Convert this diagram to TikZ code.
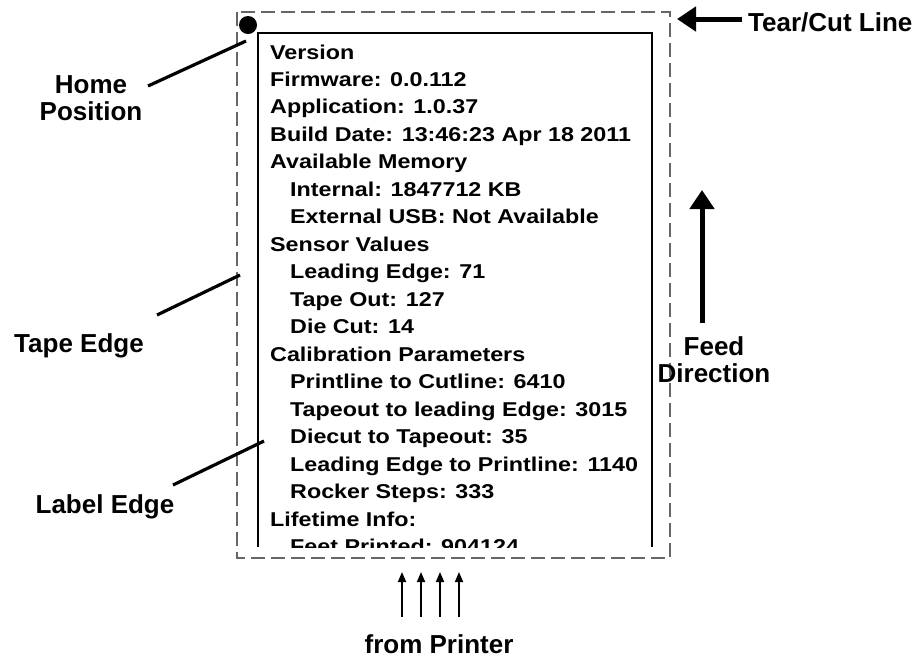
\documentclass[tikz,border=0pt]{standalone}
\usepackage{fontspec}
\setmainfont{Liberation Sans}
\newfontfamily\bodyfont[FakeStretch=1.165]{Liberation Sans Bold}
\usetikzlibrary{arrows.meta}
\tikzset{
  lbl/.style={font=\bfseries\fontsize{26}{27}\selectfont, inner sep=0pt, align=center},
  bodytext/.style={font=\bodyfont\fontsize{20}{20}\selectfont, inner sep=0pt, anchor=base west},
  leader/.style={line width=3.2pt},
  bigarrow/.style={line width=5pt, -{Triangle[width=24pt,length=19pt]}},
  smallarrow/.style={line width=1.8pt, -{Triangle[width=8pt,length=10pt]}},
  tearline/.style={draw=black!60, line width=1.1pt, dash pattern=on 14pt off 6pt},
  paper/.style={line width=2.8pt}
}
\begin{document}
\begin{tikzpicture}[x=1pt,y=-1pt]
\useasboundingbox (0,0) rectangle (923,657);
% outer tear/cut dashed rectangle
\draw[tearline] (237,12) rectangle (670,558);
% inner label outline (open at bottom)
\draw[paper] (258,547) -- (258,33) -- (652,33) -- (652,547);
% home dot
\node[circle, fill=black, minimum size=18pt, inner sep=0pt] (homedot) at (248,25) {};
% body text, clipped at label bottom
\begin{scope}
\clip (258,33) rectangle (652,547);
\node[bodytext] (l1)  at (270, 59.0) {Version};
\node[bodytext] (l2)  at (270, 86.5) {Firmware: 0.0.112};
\node[bodytext] (l3)  at (270,113.9) {Application: 1.0.37};
\node[bodytext] (l4)  at (270,141.4) {Build Date: 13:46:23 Apr 18 2011};
\node[bodytext] (l5)  at (270,168.9) {Available Memory};
\node[bodytext] (l6)  at (290,196.4) {Internal: 1847712 KB};
\node[bodytext] (l7)  at (290,223.8) {External USB: Not Available};
\node[bodytext] (l8)  at (270,251.3) {Sensor Values};
\node[bodytext] (l9)  at (290,278.8) {Leading Edge: 71};
\node[bodytext] (l10) at (290,306.2) {Tape Out: 127};
\node[bodytext] (l11) at (290,333.7) {Die Cut: 14};
\node[bodytext] (l12) at (270,361.2) {Calibration Parameters};
\node[bodytext] (l13) at (290,388.6) {Printline to Cutline: 6410};
\node[bodytext] (l14) at (290,416.1) {Tapeout to leading Edge: 3015};
\node[bodytext] (l15) at (290,443.6) {Diecut to Tapeout: 35};
\node[bodytext] (l16) at (290,471.1) {Leading Edge to Printline: 1140};
\node[bodytext] (l17) at (290,498.5) {Rocker Steps: 333};
\node[bodytext] (l18) at (270,526.0) {Lifetime Info:};
\node[bodytext] (l19) at (290,553.5) {Feet Printed: 904124};
\end{scope}
% labels
\node[lbl] (home) at (91,98) {Home\\Position};
\node[lbl, anchor=base] (tape) at (79,352) {Tape Edge};
\node[lbl, anchor=base] (labeledge) at (105,513) {Label Edge};
\node[lbl, anchor=base west] (tear) at (748,31) {Tear/Cut Line};
\node[lbl] (feed) at (714,360) {Feed\\Direction};
\node[lbl, anchor=base] (printer) at (439,653) {from Printer};
% leader lines
\coordinate (homeA) at (148,86);
\coordinate (homeB) at (246,41);
\draw[leader] (homeA) -- (homeB);
\coordinate (tapeA) at (157,315);
\coordinate (tapeB) at (240,275);
\draw[leader] (tapeA) -- (tapeB);
\coordinate (labA) at (173,485);
\coordinate (labB) at (264,441);
\draw[leader] (labA) -- (labB);
% tear/cut arrow
\coordinate (tearTip) at (677,19);
\draw[bigarrow] (tear.west |- tearTip) ++(-6,0) coordinate (tearTail) -- (tearTip);
% feed arrow
\coordinate (feedTail) at (702,323);
\coordinate (feedTip) at (702,190);
\draw[bigarrow] (feedTail) -- (feedTip);
% from printer arrows
\foreach \i/\x in {1/402,2/421,3/440,4/459}{
  \coordinate (pa\i) at (\x,617);
  \coordinate (pb\i) at (\x,572);
  \draw[smallarrow] (pa\i) -- (pb\i);
}
\end{tikzpicture}
\end{document}
